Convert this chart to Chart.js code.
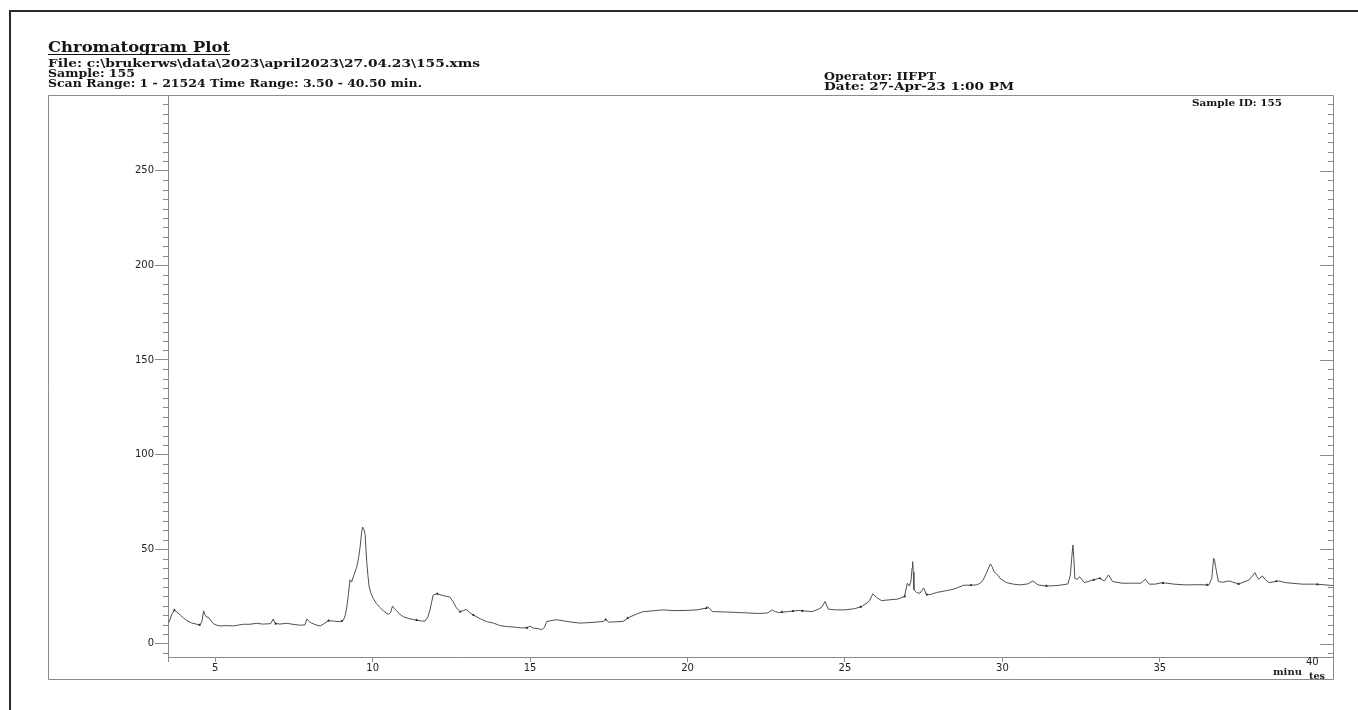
<!DOCTYPE html>
<html>
<head>
<meta charset="utf-8">
<script src="https://cdn.jsdelivr.net/npm/chart.js@4.4.1/dist/chart.umd.min.js"></script>
<style>
  html, body { margin: 0; padding: 0; background: #fff; }
  #wrap { width: 1358px; height: 710px; position: relative; }
  canvas { display: block; }
</style>
</head>
<body>
<div id="wrap"><canvas id="chrom" width="1358" height="710"></canvas></div>
<script>
// Retention time (minutes) and detector signal of the chromatogram trace
const retentionTime = [
  3.50, 3.54, 3.62, 3.70, 3.80, 3.89, 4.00, 4.10, 4.25, 4.42, 4.52, 4.58, 4.63, 4.67, 4.71, 4.79, 4.87, 4.95,
  5.05, 5.16, 5.35, 5.58, 5.75, 5.90, 6.10, 6.32, 6.50, 6.64, 6.76, 6.84, 6.90, 7.05, 7.27, 7.50, 7.70, 7.85,
  7.91, 7.98, 8.07, 8.20, 8.33, 8.45, 8.59, 8.75, 8.96, 9.07, 9.13, 9.18, 9.23, 9.28, 9.33, 9.41, 9.49, 9.55,
  9.60, 9.65, 9.68, 9.72, 9.76, 9.81, 9.85, 9.89, 9.95, 10.02, 10.12, 10.23, 10.35, 10.50, 10.57, 10.63, 10.70,
  10.76, 10.85, 10.97, 11.15, 11.40, 11.55, 11.66, 11.75, 11.82, 11.88, 11.92, 12.03, 12.20, 12.35, 12.45,
  12.56, 12.66, 12.77, 12.88, 12.98, 13.08, 13.19, 13.42, 13.62, 13.84, 14.04, 14.26, 14.50, 14.70, 14.89,
  15.00, 15.10, 15.25, 15.37, 15.45, 15.53, 15.84, 16.20, 16.58, 17.00, 17.32, 17.40, 17.50, 17.95, 18.16,
  18.40, 18.58, 18.90, 19.21, 19.60, 19.95, 20.30, 20.58, 20.65, 20.79, 21.20, 21.63, 22.26, 22.55, 22.68,
  22.78, 22.89, 23.20, 23.53, 23.95, 24.15, 24.26, 24.37, 24.47, 24.70, 25.00, 25.30, 25.53, 25.70, 25.79,
  25.89, 26.00, 26.16, 26.40, 26.68, 26.89, 26.98, 27.05, 27.10, 27.13, 27.15, 27.17, 27.19, 27.28, 27.38,
  27.50, 27.59, 27.75, 27.91, 28.20, 28.44, 28.60, 28.76, 29.00, 29.18, 29.30, 29.39, 29.49, 29.56, 29.62,
  29.68, 29.73, 29.81, 29.87, 29.92, 30.13, 30.35, 30.55, 30.80, 30.97, 31.13, 31.35, 31.60, 31.85, 32.08,
  32.16, 32.20, 32.24, 32.27, 32.30, 32.38, 32.45, 32.60, 32.75, 32.87, 33.08, 33.24, 33.37, 33.50, 33.80,
  34.13, 34.40, 34.54, 34.66, 34.85, 35.08, 35.45, 35.82, 36.20, 36.56, 36.65, 36.68, 36.71, 36.74, 36.77,
  36.86, 37.00, 37.19, 37.51, 37.83, 37.95, 38.02, 38.08, 38.14, 38.25, 38.35, 38.46, 38.78, 38.99, 39.52,
  39.94, 40.20, 40.46, 40.50
];
const signal = [
  11.0, 11.7, 15.5, 17.8, 16.5, 15.2, 13.5, 12.2, 11.0, 10.3, 9.9, 12.0, 17.4, 15.5, 14.3, 13.9, 12.0, 10.5,
  9.8, 9.4, 9.6, 9.4, 9.9, 10.3, 10.3, 10.8, 10.4, 10.5, 10.6, 13.1, 10.8, 10.4, 10.8, 10.2, 9.8, 10.0,
  13.1, 11.8, 10.8, 10.0, 9.4, 10.5, 12.2, 12.0, 11.7, 12.5, 15.0, 19.5, 26.0, 33.8, 32.6, 36.5, 40.4, 45.0,
  50.9, 59.0, 61.7, 60.5, 57.8, 43.9, 36.0, 30.0, 26.5, 23.9, 21.2, 19.2, 17.2, 15.5, 16.5, 19.9, 18.5,
  17.4, 15.8, 14.3, 13.3, 12.5, 12.0, 12.0, 14.0, 17.8, 22.5, 25.6, 26.5, 25.6, 25.0, 24.7,
  22.1, 19.0, 16.9, 17.6, 18.1, 16.5, 15.2, 13.2, 11.7, 10.9, 9.6, 9.1, 8.8, 8.4, 8.4,
  9.3, 8.3, 8.0, 7.4, 8.5, 11.8, 12.7, 11.7, 10.9, 11.3, 11.8, 12.8, 11.4, 11.8, 14.1,
  15.8, 16.9, 17.4, 17.9, 17.5, 17.6, 17.9, 18.8, 19.5, 17.0, 16.8, 16.5, 16.0, 16.3, 17.9,
  17.0, 16.5, 17.0, 17.6, 17.0, 18.2, 19.3, 22.3, 18.3, 17.9, 17.9, 18.5, 19.7, 21.5, 23.2,
  26.4, 24.5, 22.8, 23.2, 23.6, 25.0, 32.0, 30.5, 33.7, 40.0, 43.4, 38.0, 28.5, 27.0, 26.7,
  29.5, 25.8, 26.2, 27.1, 28.0, 28.8, 29.8, 30.9, 31.0, 31.1, 32.0, 33.7, 37.3, 40.0, 42.2,
  40.5, 38.1, 36.9, 36.0, 34.6, 32.3, 31.5, 31.1, 31.6, 33.2, 31.1, 30.6, 30.6, 31.0, 31.6,
  36.4, 45.0, 52.2, 45.0, 34.6, 34.0, 35.5, 32.3, 33.0, 33.7, 34.6, 33.2, 36.4, 32.9, 32.0,
  32.0, 32.0, 34.1, 31.5, 31.5, 32.3, 31.5, 31.1, 31.2, 31.1, 34.6, 40.0, 45.2, 44.0, 40.8,
  32.9, 32.5, 33.2, 31.6, 33.7, 36.0, 37.6, 35.5, 34.1, 35.9, 34.0, 32.3, 33.2, 32.3, 31.5,
  31.5, 31.2, 30.8, 30.8
];

// Small integration marks along the baseline
const markTime   = [3.70, 4.50, 6.92, 8.60, 9.02, 11.40, 12.05, 12.78, 13.20, 14.90, 17.40, 18.10, 20.60, 23.00, 23.35, 23.65, 25.50, 26.90, 27.60, 29.00, 31.40, 32.90, 33.10, 35.10, 36.50, 37.50, 38.70, 40.00];
const markSignal = [17.8, 9.9, 10.6, 12.2, 12.0, 12.5, 26.4, 16.9, 15.2, 8.4, 12.8, 13.6, 18.8, 16.8, 17.2, 17.4, 19.5, 25.0, 26.0, 31.0, 30.6, 33.7, 34.6, 32.0, 31.1, 31.6, 33.0, 31.4];

// Axis ranges and tick spacing
const timeRange = [3.5, 40.5];
const signalRange = [-7, 290];
const timeMajorStep = 5;
const signalMajorStep = 50;
const signalMinorStep = 5;

// Header texts
const titleText = 'Chromatogram Plot';
const headerLines = [
  'File: c:\\brukerws\\data\\2023\\april2023\\27.04.23\\155.xms',
  'Sample: 155',
  'Scan Range: 1 - 21524 Time Range: 3.50 - 40.50 min.'
];
const operatorLines = ['Operator: IIFPT', 'Date: 27-Apr-23 1:00 PM'];
const sampleIdText = 'Sample ID: 155';
const unitPieces = ['minu', 'tes'];

const W = 1358, H = 710;
const frame = { left: 48, top: 95, right: 1333, bottom: 679 };
const axisGray = '#8a8a8a';
const serif = '"DejaVu Serif"';

// draws a string with a horizontal squeeze factor
function squeezedText(ctx, text, x, baseline, size, k, weight) {
  ctx.save();
  ctx.font = `${weight} ${size}px ${serif}`;
  ctx.translate(x, baseline);
  ctx.scale(k, 1);
  ctx.textAlign = 'left';
  ctx.textBaseline = 'alphabetic';
  ctx.fillText(text, 0, 0);
  ctx.restore();
}
function squeezeFor(ctx, text, size, width, weight) {
  ctx.save();
  ctx.font = `${weight} ${size}px ${serif}`;
  const w = ctx.measureText(text).width;
  ctx.restore();
  return width / w;
}
function boxedText(ctx, text, x, baseline, size, width) {
  squeezedText(ctx, text, x, baseline, size, squeezeFor(ctx, text, size, width, 'bold'), 'bold');
}

const decorations = {
  id: 'decorations',
  beforeDraw(chart) {
    const ctx = chart.ctx;
    ctx.save();
    ctx.fillStyle = '#fff';
    ctx.fillRect(0, 0, W, H);
    ctx.restore();
  },
  afterDraw(chart) {
    const ctx = chart.ctx;
    const y = chart.scales.y, x = chart.scales.x;
    const area = chart.chartArea;
    ctx.save();

    // outer page border
    ctx.strokeStyle = '#2a2a2a';
    ctx.lineWidth = 2;
    ctx.beginPath();
    ctx.moveTo(10, H); ctx.lineTo(10, 11); ctx.lineTo(W, 11);
    ctx.stroke();

    // plot frame
    ctx.strokeStyle = axisGray;
    ctx.lineWidth = 1;
    ctx.beginPath();
    ctx.moveTo(frame.left + 0.5, frame.top + 0.5);
    ctx.lineTo(frame.right + 0.5, frame.top + 0.5);
    ctx.lineTo(frame.right + 0.5, frame.bottom + 0.5);
    ctx.lineTo(frame.left + 0.5, frame.bottom + 0.5);
    ctx.closePath();
    ctx.stroke();

    // minor ticks on the left axis, all ticks on the right axis (pointing inward)
    ctx.beginPath();
    for (let v = Math.ceil(signalRange[0] / signalMinorStep) * signalMinorStep; v <= signalRange[1]; v += signalMinorStep) {
      const py = Math.round(y.getPixelForValue(v)) + 0.5;
      const major = v % signalMajorStep === 0;
      if (!major) {
        ctx.moveTo(area.left - 5, py); ctx.lineTo(area.left, py);
      }
      const len = major ? 13 : 5;
      ctx.moveTo(frame.right - len, py); ctx.lineTo(frame.right, py);
    }
    ctx.stroke();

    // header block
    ctx.fillStyle = '#151515';
    boxedText(ctx, titleText, 48, 52, 14, 182);
    ctx.fillRect(48, 54, 182, 1);
    boxedText(ctx, headerLines[0], 48, 67, 10.5, 432);
    boxedText(ctx, headerLines[1], 48, 77, 10.5, 87);
    boxedText(ctx, headerLines[2], 48, 87, 10.5, 374);
    boxedText(ctx, operatorLines[0], 824, 80, 10.5, 112);
    boxedText(ctx, operatorLines[1], 824, 90, 10.5, 190);
    boxedText(ctx, sampleIdText, 1192, 106, 9, 90);

    // last time label with the split unit
    ctx.fillStyle = '#222';
    const p40 = x.getPixelForValue(40);
    ctx.font = '10px "DejaVu Sans"';
    ctx.textAlign = 'center';
    ctx.textBaseline = 'middle';
    ctx.fillText('40', p40 - 5, 662);
    boxedText(ctx, unitPieces[0], 1273, 675, 9, 29);
    boxedText(ctx, unitPieces[1], 1309, 679, 9, 16);

    ctx.restore();
  }
};

const traceData = retentionTime.map((t, i) => ({ x: t, y: signal[i] }));
const markData = markTime.map((t, i) => ({ x: t, y: markSignal[i] }));

new Chart(document.getElementById('chrom'), {
  type: 'line',
  data: {
    datasets: [
      {
        label: 'Signal',
        data: traceData,
        borderColor: '#505050',
        borderWidth: 1,
        pointRadius: 0,
        tension: 0,
        fill: false,
        order: 2
      },
      {
        label: 'Marks',
        type: 'scatter',
        data: markData,
        pointStyle: 'triangle',
        pointRadius: 1.6,
        backgroundColor: '#222',
        borderColor: '#222',
        borderWidth: 0,
        order: 1
      }
    ]
  },
  options: {
    responsive: false,
    devicePixelRatio: 1,
    animation: false,
    events: [],
    layout: { padding: { top: 95, right: W - 1333, left: 0, bottom: 0 } },
    plugins: { legend: { display: false }, tooltip: { enabled: false } },
    scales: {
      x: {
        type: 'linear',
        min: timeRange[0],
        max: timeRange[1],
        afterFit(s) { s.height = H - 657; },
        grid: { drawOnChartArea: false, drawTicks: true, tickLength: 5, color: axisGray, lineWidth: 1 },
        border: { display: true, color: axisGray, width: 1 },
        ticks: {
          stepSize: timeMajorStep,
          padding: 0,
          autoSkip: false,
          maxRotation: 0,
          color: '#222',
          font: { family: '"DejaVu Sans"', size: 10 },
          callback(v) {
            if (v === timeRange[0] || v === timeRange[1] || v === 40) return '';
            return v % timeMajorStep === 0 ? String(v) : null;
          }
        }
      },
      y: {
        type: 'linear',
        min: signalRange[0],
        max: signalRange[1],
        afterFit(s) { s.width = 168; },
        grid: { drawOnChartArea: false, drawTicks: true, tickLength: 13, color: axisGray, lineWidth: 1 },
        border: { display: true, color: axisGray, width: 1 },
        ticks: {
          stepSize: signalMajorStep,
          padding: 1,
          autoSkip: false,
          color: '#222',
          font: { family: '"DejaVu Sans"', size: 10 },
          callback(v) { return v % signalMajorStep === 0 ? String(v) : null; }
        }
      }
    }
  },
  plugins: [decorations]
});
</script>
</body>
</html>
